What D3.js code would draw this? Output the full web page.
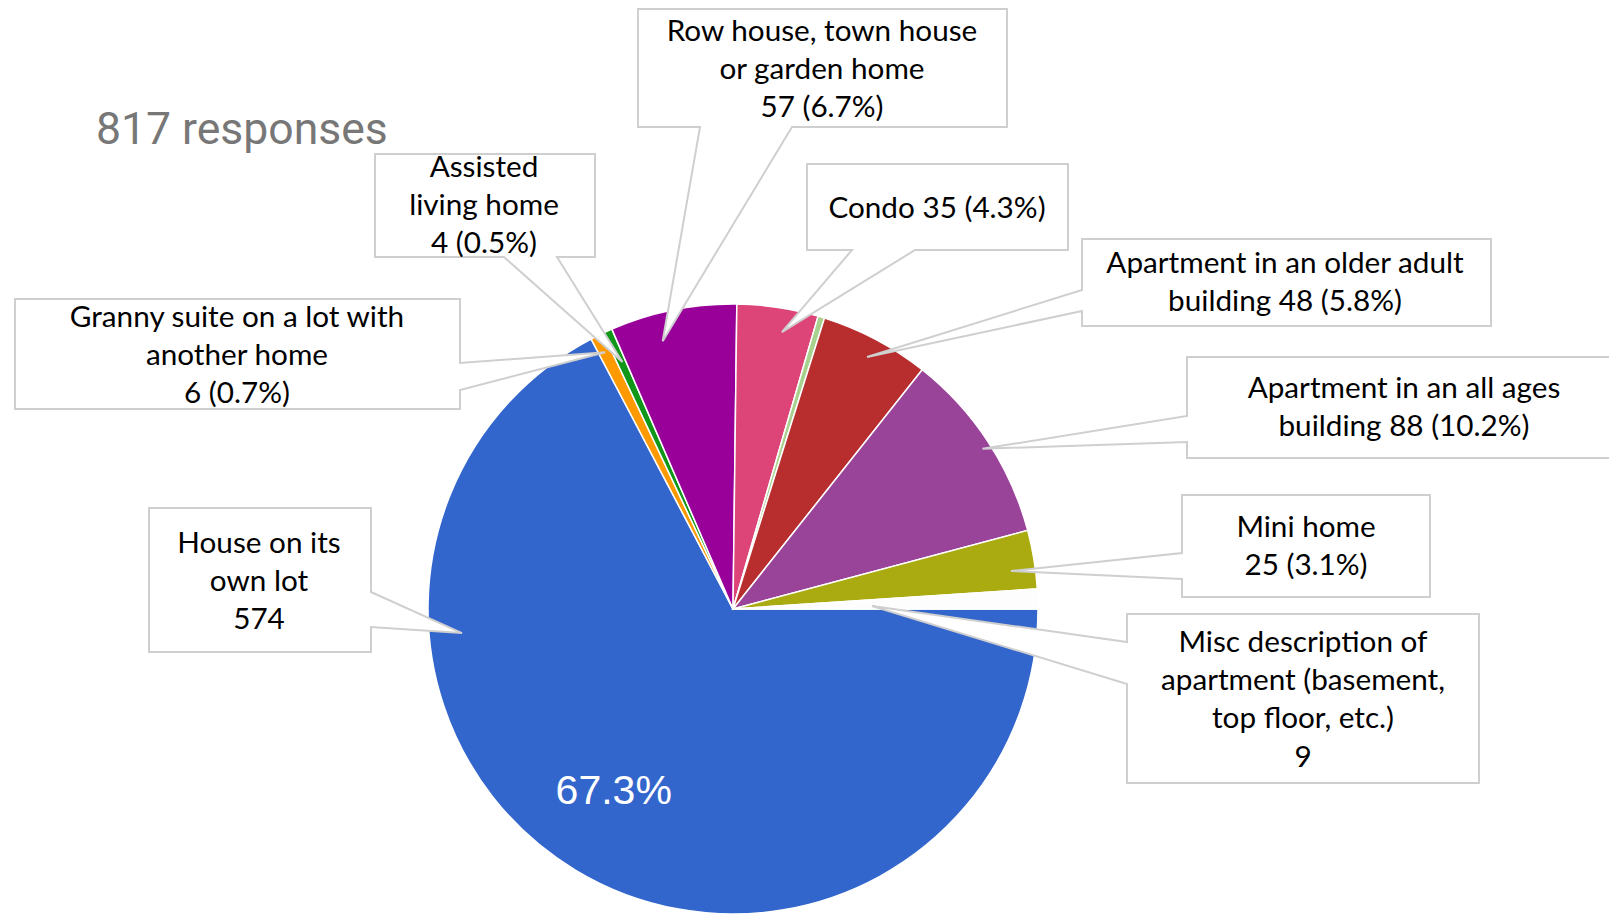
<!DOCTYPE html>
<html>
<head>
<meta charset="utf-8">
<script src="https://cdn.jsdelivr.net/npm/d3@7"></script>
<style>
  html, body { margin: 0; padding: 0; background: #ffffff; }
  svg { display: block; }
</style>
</head>
<body>
<div id="chart"></div>
<script>
// ---------------- data ----------------
const title = "817 responses";
const categories = [
  "House on its own lot",
  "Granny suite on a lot with another home",
  "Assisted living home",
  "Row house, town house or garden home",
  "Condo",
  "Other",
  "Apartment in an older adult building",
  "Apartment in an all ages building",
  "Mini home",
  "Misc description of apartment (basement, top floor, etc.)"
];
const counts   = [574, 6, 4, 57, 35, 3, 48, 88, 25, 9];
const percents = [67.3, 0.7, 0.5, 6.7, 4.3, 0.35, 5.8, 10.2, 3.1, 1.05];
const colors   = ["#3366cc", "#ff9900", "#109618", "#990099", "#dd4477",
                  "#a9d18e", "#b82e2e", "#994499", "#aaaa11", "#fdfdfd"];
const labelLines = [
  ["House on its", "own lot", "574"],
  ["Granny suite on a lot with", "another home", "6 (0.7%)"],
  ["Assisted", "living home", "4 (0.5%)"],
  ["Row house, town house", "or garden home", "57 (6.7%)"],
  ["Condo 35 (4.3%)"],
  null,
  ["Apartment in an older adult", "building 48 (5.8%)"],
  ["Apartment in an all ages", "building 88 (10.2%)"],
  ["Mini home", "25 (3.1%)"],
  ["Misc description of", "apartment (basement,", "top floor, etc.)", "9"]
];
const insideLabel = "67.3%";

// ---------------- layout ----------------
const W = 1609, H = 917;
const cx = 733, cy = 609, R = 305;
const lineH = 38.2;
// callout boxes: x,y,w,h ; side of the pointer ; two attach positions along that side ;
// pointer tip as fraction of slice angle + fraction of radius ; text centre x ; first baseline
const callouts = [
  {i: 0, box: [149, 508, 222, 144], side: "right",  at: [592, 627], frac: 0.722, rr: 0.892, tx: 259,  ty: 553},
  {i: 1, box: [15, 299, 445, 110],  side: "right",  at: [363, 390], frac: 0.5,   rr: 0.94,  tx: 237,  ty: 327},
  {i: 2, box: [375, 154, 220, 103], side: "bottom", at: [504, 557], frac: 0.6,   rr: 0.887, tx: 484,  ty: 177},
  {i: 3, box: [638, 9, 369, 118],   side: "bottom", at: [700, 792], frac: 0.36,  rr: 0.908, tx: 822,  ty: 41},
  {i: 4, box: [807, 164, 261, 86],  side: "bottom", at: [852, 915], frac: 0.60,  rr: 0.922, tx: 937,  ty: 218},
  {i: 6, box: [1082, 239, 409, 87], side: "left",   at: [290, 311], frac: 0.505, rr: 0.936, tx: 1285, ty: 273},
  {i: 7, box: [1187, 357, 440, 101],side: "left",   at: [416, 442], frac: 0.516, rr: 0.972, tx: 1404, ty: 398},
  {i: 8, box: [1182, 495, 248, 102],side: "left",   at: [553, 579], frac: 0.64,  rr: 0.92,  tx: 1306, ty: 537},
  {i: 9, box: [1127, 614, 352, 169],side: "left",   at: [642, 684], frac: 0.68,  rr: 0.456, tx: 1303, ty: 652}
];

const svg = d3.select("#chart").append("svg")
  .attr("width", W).attr("height", H)
  .attr("viewBox", `0 0 ${W} ${H}`);

svg.append("rect").attr("width", W).attr("height", H).attr("fill", "#ffffff");

// title
svg.append("text")
  .attr("x", 96).attr("y", 144)
  .attr("font-family", "Roboto, sans-serif")
  .attr("font-size", 44.5)
  .attr("fill", "#777777")
  .text(title);

// pie
const pie = d3.pie().sort(null).value(d => d)
  .startAngle(Math.PI / 2).endAngle(Math.PI / 2 + 2 * Math.PI);
const arcs = pie(percents);
const arc = d3.arc().innerRadius(0).outerRadius(R);

const g = svg.append("g").attr("transform", `translate(${cx},${cy})`);
g.selectAll("path.slice").data(arcs).join("path")
  .attr("class", "slice")
  .attr("d", arc)
  .attr("fill", (d, i) => colors[i])
  .attr("stroke", "#ffffff")
  .attr("stroke-width", 1.5);

// percentage inside the largest slice
const a0 = arcs[0];
const pc = d3.pointRadial(a0.startAngle + 0.509 * (a0.endAngle - a0.startAngle), R * 0.712);
g.append("text")
  .attr("x", pc[0]).attr("y", pc[1])
  .attr("text-anchor", "middle")
  .attr("dominant-baseline", "central")
  .attr("font-family", "Liberation Sans, Arial, sans-serif")
  .attr("font-size", 41)
  .attr("fill", "#ffffff")
  .text(insideLabel);

// callouts
function tipPoint(c) {
  const a = arcs[c.i];
  const ang = a.startAngle + c.frac * (a.endAngle - a.startAngle);
  const p = d3.pointRadial(ang, c.rr * R);
  return [cx + p[0], cy + p[1]];
}
function calloutPath(c) {
  const [x, y, w, h] = c.box;
  const x2 = x + w, y2 = y + h;
  const t = tipPoint(c);
  const p = d3.path();
  p.moveTo(x, y);
  p.lineTo(x2, y);
  if (c.side === "right") {
    p.lineTo(x2, c.at[0]); p.lineTo(t[0], t[1]); p.lineTo(x2, c.at[1]);
  }
  p.lineTo(x2, y2);
  if (c.side === "bottom") {
    p.lineTo(c.at[1], y2); p.lineTo(t[0], t[1]); p.lineTo(c.at[0], y2);
  }
  p.lineTo(x, y2);
  if (c.side === "left") {
    p.lineTo(x, c.at[1]); p.lineTo(t[0], t[1]); p.lineTo(x, c.at[0]);
  }
  p.closePath();
  return p.toString();
}

const cg = svg.append("g");
cg.selectAll("path.callout").data(callouts).join("path")
  .attr("class", "callout")
  .attr("d", calloutPath)
  .attr("fill", "#ffffff")
  .attr("stroke", "#cfcfcf")
  .attr("stroke-width", 2)
  .attr("stroke-linejoin", "miter");

const tg = svg.append("g")
  .attr("font-family", "Lato, 'Open Sans', sans-serif")
  .attr("font-size", 29.7)
  .attr("fill", "#000000")
  .attr("text-anchor", "middle");
callouts.forEach(c => {
  const lines = labelLines[c.i];
  const t = tg.append("text").attr("x", c.tx).attr("y", c.ty);
  lines.forEach((ln, k) => {
    t.append("tspan").attr("x", c.tx).attr("y", c.ty + k * lineH).text(ln);
  });
});
</script>
</body>
</html>
